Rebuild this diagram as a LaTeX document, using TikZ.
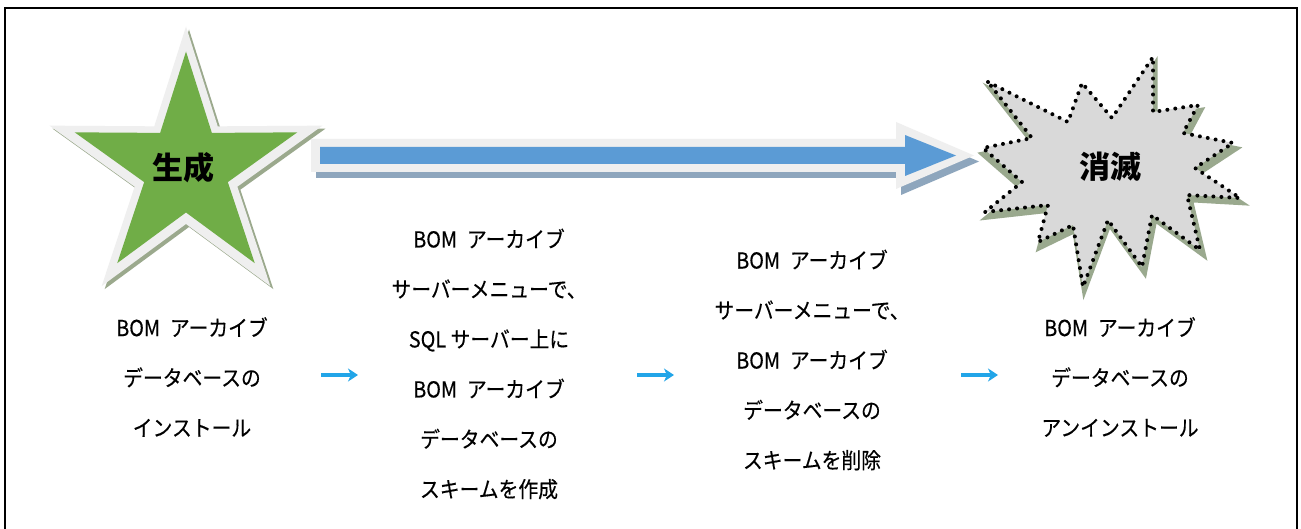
\documentclass[tikz,border=0pt]{standalone}
\usepackage{fontspec}
\setmainfont{Noto Sans CJK JP}[FakeStretch=0.9,FakeBold=0.35]
\newfontfamily\lblfont{Noto Sans CJK JP}
\usetikzlibrary{arrows.meta}
\definecolor{stargreen}{HTML}{70AD47}
\definecolor{rimgray}{HTML}{EFEFEF}
\definecolor{starshadow}{HTML}{9BA98D}
\definecolor{arrowblue}{HTML}{5B9BD5}
\definecolor{arrowshadow}{HTML}{8EA6BD}
\definecolor{burstfill}{HTML}{D9D9D9}
\definecolor{burstshadow}{HTML}{9AA98E}
\definecolor{flowblue}{HTML}{22A5E8}
\newcommand\bomgap{\hspace{0.45em}}
\begin{document}
\begin{tikzpicture}[x=1pt,y=-1pt,
  frameline/.style={draw=black,line width=1.5pt},
  blk/.style={align=center,inner sep=0pt,font=\fontsize{22}{50}\selectfont},
  biglabel/.style={inner sep=0pt,font=\lblfont\bfseries\fontsize{31}{34}\selectfont},
  flow/.style={draw=flowblue,line width=3.5pt,-{Stealth[length=10pt,width=13pt,inset=3pt]}},
  burst/.style={fill=burstfill,draw=black,line width=4pt,line cap=round,dash pattern=on 0pt off 8pt}]
\useasboundingbox (0,0) rectangle (1301,529);
\fill[white] (0,0) rectangle (1301,529);
\draw[frameline] (5,529) -- (5,8) -- (1297,8) -- (1297,529);

% star (generation)
\fill[starshadow,shift={(189,173)}] (-90:143.5) -- (-54:54) -- (-18:143.5) -- (18:54) -- (54:143.5) -- (90:54) -- (126:143.5) -- (162:54) -- (198:143.5) -- (234:54) -- cycle;
\fill[rimgray,shift={(186,170)}] (-90:143.5) -- (-54:54) -- (-18:143.5) -- (18:54) -- (54:143.5) -- (90:54) -- (126:143.5) -- (162:54) -- (198:143.5) -- (234:54) -- cycle;
\fill[stargreen,shift={(186,168.5)}] (-90:117) -- (-54:44) -- (-18:117) -- (18:44) -- (54:117) -- (90:44) -- (126:117) -- (162:44) -- (198:117) -- (234:44) -- cycle;
\node[biglabel] (gen) at (183,168) {生成};

% big arrow
\fill[arrowshadow,shift={(5,6)}] (311,139) -- (896,139) -- (896,122) -- (974,155.5) -- (896,189) -- (896,172) -- (311,172) -- cycle;
\fill[rimgray] (311,139) -- (896,139) -- (896,122) -- (974,155.5) -- (896,189) -- (896,172) -- (311,172) -- cycle;
\fill[arrowblue] (320,147) -- (905,147) -- (905,135) -- (956,155.5) -- (905,176) -- (905,164) -- (320,164) -- cycle;

% burst (extinction)
\begin{scope}[shift={(1112,176)},scale=1.06,shift={(-1110,-170)}]
\fill[burstshadow] (988,82) -- (1068,122) -- (1082,83) -- (1112,118) -- (1153,57) -- (1153,112) -- (1198,105) -- (1183,133) -- (1233,143) -- (1195,168) -- (1240,198) -- (1187,195) -- (1200,250) -- (1152,215) -- (1142,267) -- (1108,220) -- (1083,287) -- (1073,225) -- (1038,242) -- (1048,205) -- (985,212) -- (1022,182) -- (983,148) -- (1032,138) -- cycle;
\end{scope}
\path[burst] (988,82) -- (1068,122) -- (1082,83) -- (1112,118) -- (1153,57) -- (1153,112) -- (1198,105) -- (1183,133) -- (1233,143) -- (1195,168) -- (1240,198) -- (1187,195) -- (1200,250) -- (1152,215) -- (1142,267) -- (1108,220) -- (1083,287) -- (1073,225) -- (1038,242) -- (1048,205) -- (985,212) -- (1022,182) -- (983,148) -- (1032,138) -- cycle;
\node[biglabel] (ext) at (1110,167) {消滅};

% text blocks
\node[blk] (b1) at (192,377) {BOM\bomgap アーカイブ\\データベースの\\インストール};
\node[blk] (b2) at (489,364) {BOM\bomgap アーカイブ\\サーバーメニューで、\\SQL サーバー上に\\BOM\bomgap アーカイブ\\データベースの\\スキームを作成};
\node[blk] (b3) at (812,360) {BOM\bomgap アーカイブ\\サーバーメニューで、\\BOM\bomgap アーカイブ\\データベースの\\スキームを削除};
\node[blk] (b4) at (1120,377) {BOM\bomgap アーカイブ\\データベースの\\アンインストール};

% flow arrows
\coordinate (f1s) at (321,375); \coordinate (f1e) at (358,375);
\coordinate (f2s) at (637,375); \coordinate (f2e) at (674,375);
\coordinate (f3s) at (961,375); \coordinate (f3e) at (998,375);
\draw[flow] (f1s) -- (f1e);
\draw[flow] (f2s) -- (f2e);
\draw[flow] (f3s) -- (f3e);
\end{tikzpicture}
\end{document}
